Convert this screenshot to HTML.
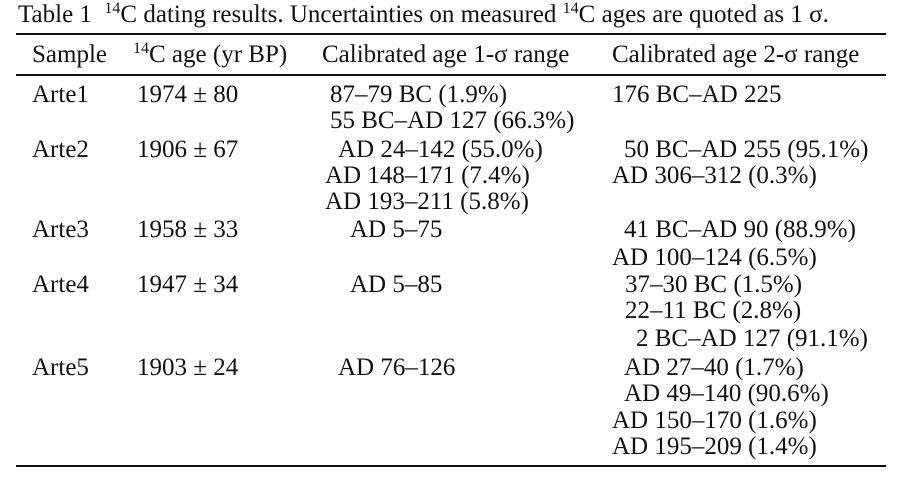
<!DOCTYPE html>
<html><head><meta charset="utf-8"><style>
body{margin:0;width:897px;height:481px;background:#fff;position:relative;overflow:hidden;font-family:"Liberation Serif","Times New Roman",serif;color:#111}
.t{position:absolute;font-size:25px;line-height:26px;white-space:nowrap}
.r{position:absolute;left:16px;width:870px;background:#111}
sup{font-size:16px;vertical-align:0;position:relative;top:-9px}
</style></head><body>
<div class="t" style="left:18px;top:2px">Table 1 &nbsp;<sup>14</sup>C dating results. Uncertainties on measured <sup>14</sup>C ages are quoted as 1 σ.</div>
<div class="r" style="top:33px;height:2px"></div>
<div class="t" style="left:32px;top:42px">Sample</div>
<div class="t" style="left:133px;top:42px"><sup>14</sup>C age (yr BP)</div>
<div class="t" style="left:322px;top:42px">Calibrated age 1-σ range</div>
<div class="t" style="left:612px;top:42px">Calibrated age 2-σ range</div>
<div class="r" style="top:74px;height:2px"></div>

<div class="t" style="left:32px;top:82px">Arte1</div>
<div class="t" style="left:137px;top:82px">1974 ± 80</div>
<div class="t" style="left:330px;top:82px">87–79 BC (1.9%)<br>55 BC–AD 127 (66.3%)</div>
<div class="t" style="left:612px;top:82px">176 BC–AD 225</div>

<div class="t" style="left:32px;top:137px">Arte2</div>
<div class="t" style="left:137px;top:137px">1906 ± 67</div>
<div class="t" style="left:338px;top:137px">AD 24–142 (55.0%)</div>
<div class="t" style="left:325px;top:163px">AD 148–171 (7.4%)<br>AD 193–211 (5.8%)</div>
<div class="t" style="left:624px;top:137px">50 BC–AD 255 (95.1%)</div>
<div class="t" style="left:612px;top:163px">AD 306–312 (0.3%)</div>

<div class="t" style="left:32px;top:217px">Arte3</div>
<div class="t" style="left:137px;top:217px">1958 ± 33</div>
<div class="t" style="left:350px;top:217px">AD 5–75</div>
<div class="t" style="left:624px;top:217px">41 BC–AD 90 (88.9%)</div>
<div class="t" style="left:612px;top:245px">AD 100–124 (6.5%)</div>

<div class="t" style="left:32px;top:272px">Arte4</div>
<div class="t" style="left:137px;top:272px">1947 ± 34</div>
<div class="t" style="left:350px;top:272px">AD 5–85</div>
<div class="t" style="left:625px;top:272px">37–30 BC (1.5%)<br>22–11 BC (2.8%)</div>
<div class="t" style="left:636px;top:326px">2 BC–AD 127 (91.1%)</div>

<div class="t" style="left:32px;top:355px">Arte5</div>
<div class="t" style="left:137px;top:355px">1903 ± 24</div>
<div class="t" style="left:338px;top:355px">AD 76–126</div>
<div class="t" style="left:624px;top:355px">AD 27–40 (1.7%)<br>AD 49–140 (90.6%)</div>
<div class="t" style="left:612px;top:408px">AD 150–170 (1.6%)<br>AD 195–209 (1.4%)</div>

<div class="r" style="top:465px;height:2px"></div>
</body></html>
